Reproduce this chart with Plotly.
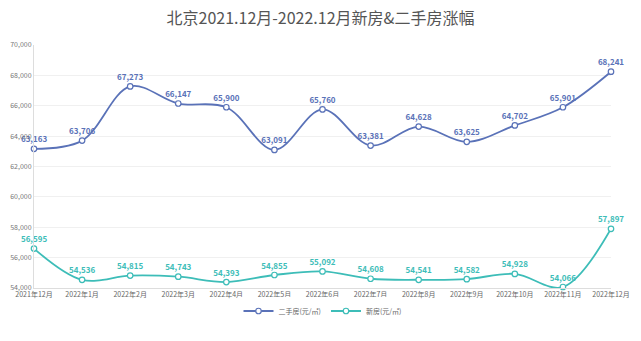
import plotly.graph_objects as go

months = ["2021年12月", "2022年1月", "2022年2月", "2022年3月", "2022年4月", "2022年5月",
          "2022年6月", "2022年7月", "2022年8月", "2022年9月", "2022年10月", "2022年11月", "2022年12月"]
second_hand = [63163, 63706, 67273, 66147, 65900, 63091, 65760, 63381, 64628, 63625, 64702, 65901, 68241]
new_homes = [56595, 54536, 54815, 54743, 54393, 54855, 55092, 54608, 54541, 54582, 54928, 54066, 57897]
y_ticks = [54000, 56000, 58000, 60000, 62000, 64000, 66000, 68000, 70000]

FONT = "Noto Sans CJK SC"
BLUE = "#5a72b8"
TEAL = "#3dbdb8"

fig = go.Figure()
for name, vals, col in [("二手房(元/㎡)", second_hand, BLUE), ("新房(元/㎡)", new_homes, TEAL)]:
    fig.add_trace(go.Scatter(
        x=months, y=vals, name=name,
        mode="lines+markers+text",
        line=dict(color=col, width=1.8, shape="spline", smoothing=1.0),
        marker=dict(size=5.5, color="white", line=dict(color=col, width=1.2)),
        text=[f"<b>{v:,}</b>" for v in vals],
        textposition="top center",
        textfont=dict(family=FONT, size=8, color=col),
        cliponaxis=False,
    ))

fig.update_layout(
    width=641, height=341,
    margin=dict(l=34, r=30, t=45, b=53, autoexpand=False),
    paper_bgcolor="white", plot_bgcolor="white",
    font=dict(family=FONT, color="#666"),
    title=dict(text="北京2021.12月-2022.12月新房&二手房涨幅", x=0.5, xanchor="center",
               y=0.947, yref="container", yanchor="middle",
               font=dict(family=FONT, size=16, color="#555")),
    showlegend=True,
    legend=dict(orientation="h", x=0.5, xanchor="center", y=-0.035, yanchor="top",
                font=dict(family=FONT, size=7, color="#666"), itemwidth=30,
                tracegroupgap=0),
    xaxis=dict(type="category", range=[0, 12], showgrid=False, showline=True,
               linecolor="#ddd", linewidth=1, ticks="", tickfont=dict(size=7, color="#666"),
               tickangle=0, automargin=False),
    yaxis=dict(range=[54000, 70000], tickvals=y_ticks, tickformat=",", showgrid=True,
               gridcolor="#f0f0f0", showline=True, linecolor="#ddd", ticks="",
               tickfont=dict(size=7, color="#777"), zeroline=False, automargin=False),
)

fig.write_html("out.html")
